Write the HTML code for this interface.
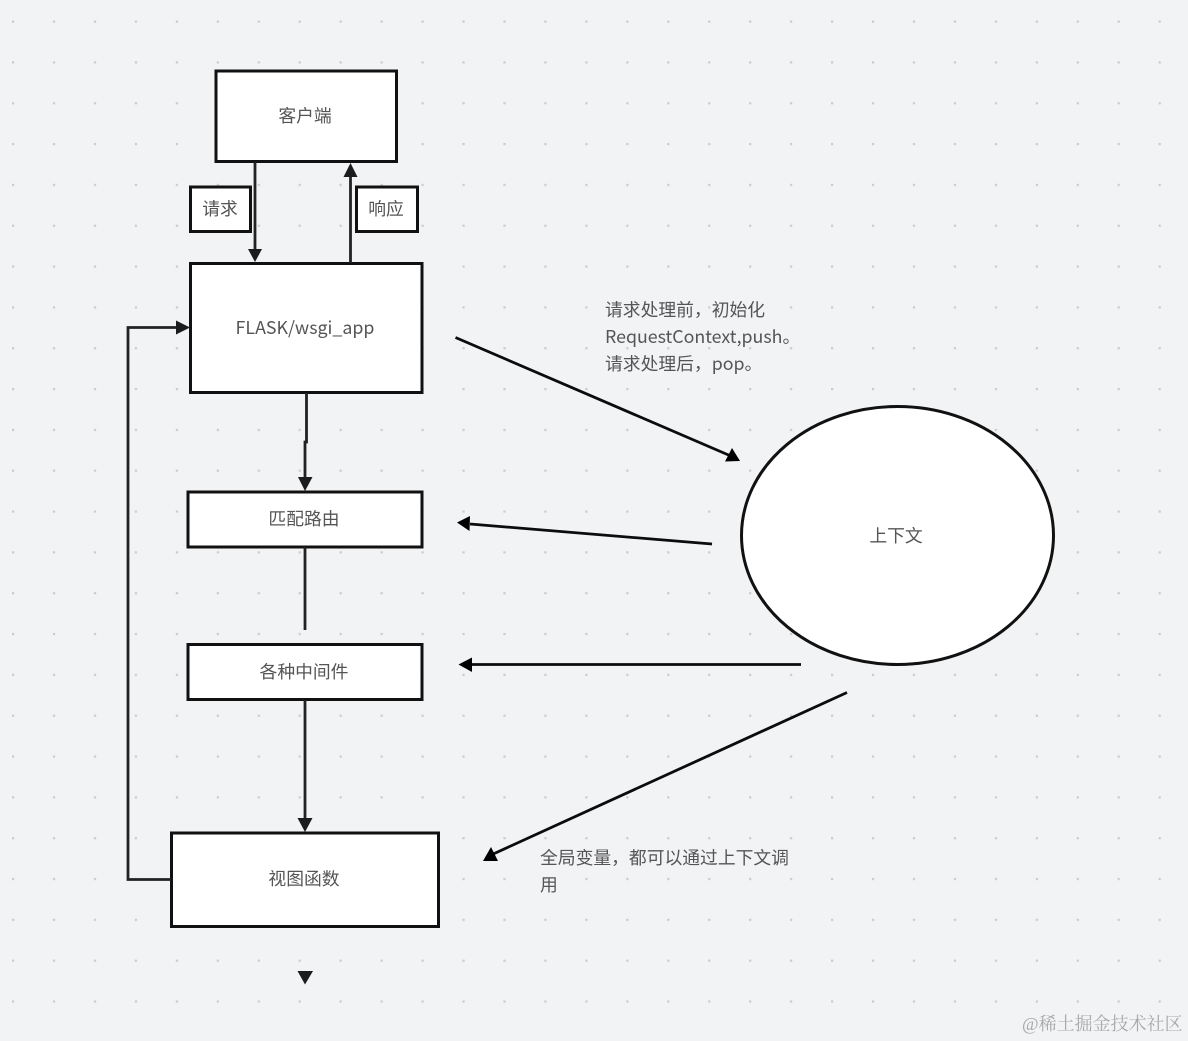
<!DOCTYPE html>
<html>
<head>
<meta charset="utf-8">
<style>
html,body{margin:0;padding:0;background:#f2f3f5;}
svg{display:block;}
text{font-family:"Noto Sans CJK SC","Liberation Sans",sans-serif;fill:#555;font-size:17.8px;}
.c{text-anchor:middle;}
</style>
</head>
<body>
<svg width="1188" height="1041" viewBox="0 0 1188 1041" xmlns="http://www.w3.org/2000/svg">
<defs>
<pattern id="d" x="12" y="20.5" width="40.95" height="40.83" patternUnits="userSpaceOnUse">
<rect x="0" y="0" width="2.2" height="2.2" fill="#cbcbce"/>
</pattern>
</defs>
<rect width="1188" height="1041" fill="#f2f3f5"/>
<rect width="1188" height="1041" fill="url(#d)"/>

<g fill="#fff" stroke="#111" stroke-width="3">
<rect x="216" y="71" width="180.500" height="90.500"/>
<rect x="190.500" y="187" width="60" height="44.500"/>
<rect x="356.500" y="187" width="61" height="44.500"/>
<rect x="190.500" y="263.500" width="231.500" height="129"/>
<rect x="188" y="492" width="234" height="55"/>
<rect x="188" y="644.500" width="234" height="55"/>
<rect x="171.500" y="833" width="267" height="93.500"/>
<ellipse cx="897.500" cy="535.500" rx="156" ry="129"/>
</g>

<g fill="none" stroke="#222" stroke-width="2.800">
<path d="M255 162V250"/>
<path d="M350.500 263V176"/>
<path d="M306.500 393V442H305V478"/>
<path d="M305 547V630"/>
<path d="M305 700V818"/>
<path d="M171 879.500H128V327.500H176"/>
</g>
<g fill="none" stroke="#0c0c0c" stroke-width="2.800">
<path d="M455.500 337.500L732 456.500"/>
<path d="M712 544L470 524"/>
<path d="M801 664.500H472"/>
<path d="M847 692.500L491 855"/>
</g>
<g fill="#1c1c1c">
<path d="M248 249H262L255 262Z"/>
<path d="M343.500 177H357.500L350.500 163Z"/>
<path d="M298 477H312.500L305 491Z"/>
<path d="M297.500 818H312.500L305 832Z"/>
<path d="M176 320.500V334.500L190 327.500Z"/>
<path d="M297.500 971H313L305 984.500Z"/>
</g>
<g fill="#000">
<path d="M740 461L725 461.500L732 448Z"/>
<path d="M457 522.500L470 516L469.500 531Z"/>
<path d="M458.500 664.500L472 657.500V672Z"/>
<path d="M483 861L498 861L491 847Z"/>
</g>

<text class="c" x="305" y="122">客户端</text>
<text class="c" x="220" y="215">请求</text>
<text class="c" x="386" y="215">响应</text>
<text class="c" x="305" y="334">FLASK/wsgi_app</text>
<text class="c" x="304" y="525">匹配路由</text>
<text class="c" x="304" y="678">各种中间件</text>
<text class="c" x="304" y="885">视图函数</text>
<text class="c" x="896" y="542">上下文</text>
<text x="605" y="316">请求处理前，初始化</text>
<text x="605" y="343">RequestContext,push。</text>
<text x="605" y="370">请求处理后，pop。</text>
<text x="540" y="864">全局变量，都可以通过上下文调</text>
<text x="540" y="891">用</text>
<text x="1022" y="1030" style="fill:#a9a9ab;font-size:18px;font-family:'Liberation Serif','Noto Serif CJK SC',serif;">@稀土掘金技术社区</text>
</svg>
</body>
</html>
